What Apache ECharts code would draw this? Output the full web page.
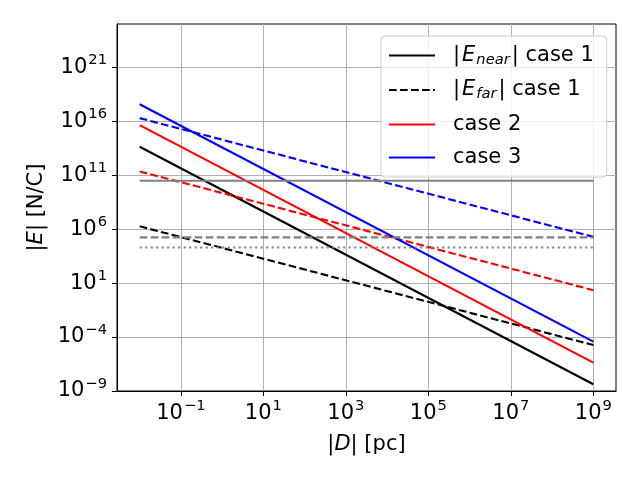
<!DOCTYPE html>
<html>
<head>
<meta charset="utf-8">
<script src="https://cdn.jsdelivr.net/npm/echarts@6/dist/echarts.min.js"></script>
<style>
html, body { margin: 0; padding: 0; background: #fff; }
#chart { width: 640px; height: 480px; }
</style>
</head>
<body>
<div id="chart"></div>
<script>
// distance at both ends of every curve [pc]
const distance = [1e-2, 1e9];
// |E| [N/C] at those two distances
const nearCase1 = [4.2e13, 4.2e-9];
const farCase1 = [1.8e6, 1.8e-5];
const nearCase2 = [4.3e15, 4.3e-7];
const farCase2 = [2.2e11, 2.2];
const nearCase3 = [3.7e17, 3.7e-5];
const farCase3 = [1.9e16, 1.9e5];
// grey horizontal levels
const levelSolid = [3.0e10, 3.0e10];
const levelDashed = [1.7e5, 1.7e5];
const levelDotted = [2.0e4, 2.0e4];
// tick exponents (decades)
const xTickExp = [-1, 1, 3, 5, 7, 9];
const yTickExp = [-9, -4, 1, 6, 11, 16, 21];
// legend
const legendNames = ['near1', 'far1', 'case 2', 'case 3'];
const legendLabels = [
    '|{i|E}{sub|near}| case 1',
    '|{i|E}{sub|far}| case 1',
    'case 2',
    'case 3',
];

const FONT = 'DejaVu Sans';
const FS = 21;
const FS_SMALL = 14.7;
const DASH = [7.7, 3.3];
const DOT = [2.1, 3.4];

const toLog = ys => distance.map((d, i) => [Math.log10(d), Math.log10(ys[i])]);
const pow10 = v => '{b|10}{s|' + String(Math.round(v)).replace('-', '\u2212') + '}';

function line(name, ys, color, type) {
    return {
        name: name,
        type: 'line',
        data: toLog(ys),
        symbol: 'none',
        silent: true,
        lineStyle: { color: color, width: 2.1, type: type },
        itemStyle: { color: color },
    };
}

const tickRich = {
    b: { fontSize: FS, fontFamily: FONT, color: '#000' },
    s: { fontSize: FS_SMALL, fontFamily: FONT, color: '#000', padding: [0, 0, 14, 1] },
};
const nameRich = {
    i: { fontSize: FS, fontFamily: FONT, fontStyle: 'italic', color: '#000' },
};

const chart = echarts.init(document.getElementById('chart'));
chart.setOption({
    animation: false,
    backgroundColor: '#fff',
    grid: {
        left: 117, right: 24, top: 24, bottom: 89,
        show: true, borderColor: '#000', borderWidth: 1,
    },
    xAxis: {
        type: 'value',
        min: -2.55, max: 9.55,
        name: '|{i|D}| [pc]',
        nameLocation: 'middle',
        nameGap: 43,
        nameTextStyle: { fontSize: FS, fontFamily: FONT, color: '#000', rich: nameRich },
        axisLine: { onZero: false, lineStyle: { color: '#000', width: 1 } },
        axisTick: { length: 5, customValues: xTickExp, lineStyle: { color: '#000' } },
        axisLabel: { customValues: xTickExp, formatter: pow10, margin: 8, rich: tickRich },
        splitLine: { show: true, lineStyle: { color: '#b0b0b0', width: 1 } },
    },
    yAxis: {
        type: 'value',
        min: -9, max: 25,
        name: '|{i|E}| [N/C]',
        nameLocation: 'middle',
        nameGap: 69,
        nameTextStyle: { fontSize: FS, fontFamily: FONT, color: '#000', rich: nameRich },
        axisLine: { onZero: false, lineStyle: { color: '#000', width: 1 } },
        axisTick: { length: 5, customValues: yTickExp, lineStyle: { color: '#000' } },
        axisLabel: { customValues: yTickExp, formatter: pow10, margin: 10, rich: tickRich },
        splitLine: { show: true, lineStyle: { color: '#b0b0b0', width: 1 } },
    },
    legend: {
        data: legendNames,
        orient: 'vertical',
        left: 381, top: 36,
        padding: [9, 13, 9, 7],
        itemWidth: 46, itemHeight: 14, itemGap: 12,
        backgroundColor: 'rgba(255,255,255,0.8)',
        borderColor: '#cccccc', borderWidth: 1, borderRadius: 4,
        selectedMode: false,
        itemStyle: { opacity: 0 },
        formatter: name => legendLabels[legendNames.indexOf(name)],
        textStyle: {
            fontSize: FS, fontFamily: FONT, color: '#000',
            padding: [0, 0, 0, 13],
            rich: {
                i: { fontSize: FS, fontFamily: FONT, fontStyle: 'italic', color: '#000', padding: [0, 1, 0, 2] },
                sub: { fontSize: FS_SMALL, fontFamily: FONT, fontStyle: 'italic', color: '#000', padding: [9, 2, 0, 0] },
            },
        },
    },
    series: [
        line('near1', nearCase1, '#000000', 'solid'),
        line('far1', farCase1, '#000000', DASH),
        line('case 2', nearCase2, '#ff0000', 'solid'),
        line('far2', farCase2, '#ff0000', DASH),
        line('case 3', nearCase3, '#0000ff', 'solid'),
        line('far3', farCase3, '#0000ff', DASH),
        line('levelSolid', levelSolid, '#808080', 'solid'),
        line('levelDashed', levelDashed, '#808080', DASH),
        line('levelDotted', levelDotted, '#808080', DOT),
    ],
});
</script>
</body>
</html>
